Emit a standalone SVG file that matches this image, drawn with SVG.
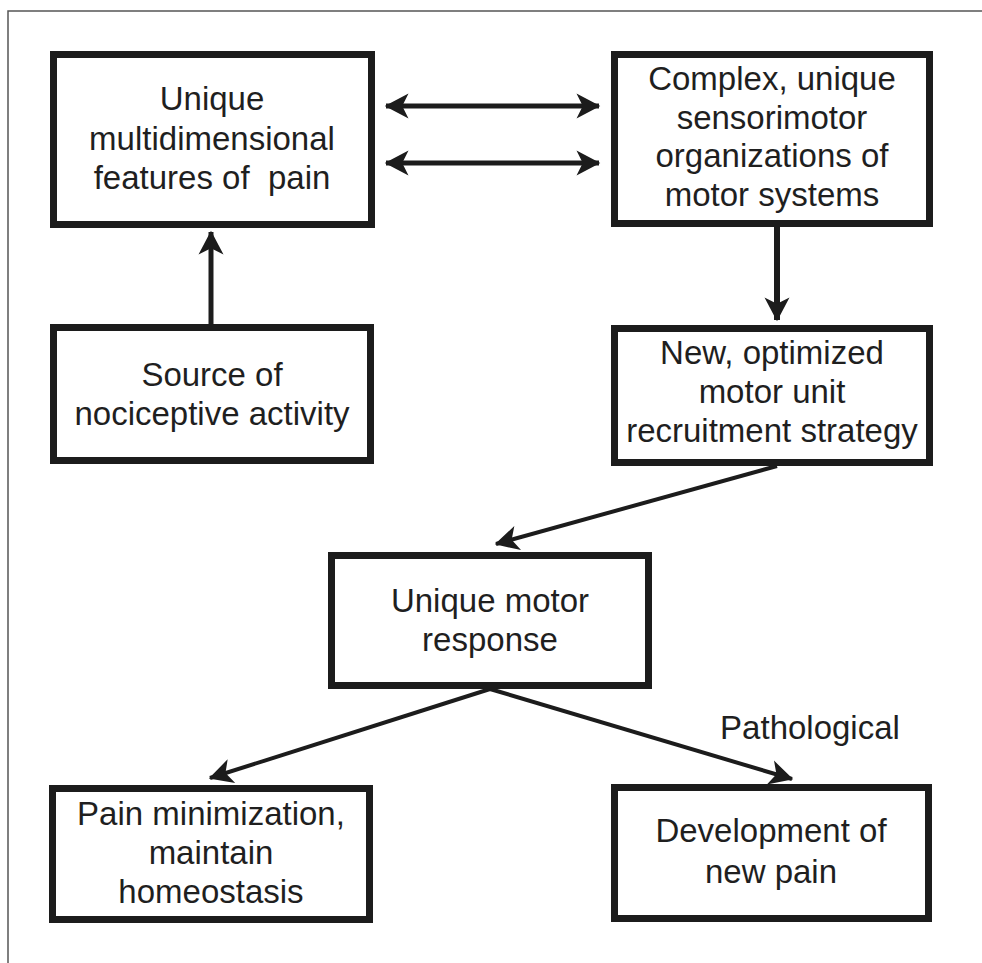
<svg xmlns="http://www.w3.org/2000/svg" width="982" height="963" viewBox="0 0 982 963">
<style>
.frame{fill:none;stroke:#555;stroke-width:1.5}
.box{fill:#fff;stroke:#1c1c1c;stroke-width:7}
.t{font-family:"Liberation Sans",Arial,sans-serif;font-size:33px;fill:#1f1f1f;text-anchor:middle}
.c{fill:none;stroke:#1c1c1c}
</style>
<defs>
<marker id="ah" markerUnits="userSpaceOnUse" markerWidth="30" markerHeight="30" viewBox="-22 -12 24 24" refX="0" refY="0" orient="auto-start-reverse">
<path d="M1,0 L-18,-10 L-13,0 L-18,10 Z" fill="#1c1c1c"/>
</marker>
</defs>
<rect width="982" height="963" fill="#fff"/>
<path class="frame" d="M8,963 L8,11 L982,11"/>
<g id="connectors">
<line class="c" stroke-width="5" x1="386" y1="106" x2="599" y2="106" marker-start="url(#ah)" marker-end="url(#ah)"/>
<line class="c" stroke-width="5" x1="386" y1="163" x2="599" y2="163" marker-start="url(#ah)" marker-end="url(#ah)"/>
<line class="c" stroke-width="5" x1="211" y1="324" x2="211" y2="232" marker-end="url(#ah)"/>
<line class="c" stroke-width="6" x1="777" y1="227" x2="777" y2="320" marker-end="url(#ah)"/>
<line class="c" stroke-width="4" x1="777" y1="466" x2="496" y2="544" marker-end="url(#ah)"/>
<line class="c" stroke-width="4" x1="490" y1="689" x2="210" y2="778" marker-end="url(#ah)"/>
<line class="c" stroke-width="4" x1="490" y1="689" x2="792" y2="779" marker-end="url(#ah)"/>
<text class="t" x="810" y="739">Pathological</text>
</g>
<g id="n1">
<rect class="box" x="53.5" y="54.5" width="318" height="170"/>
<text class="t" x="212" y="110">Unique</text>
<text class="t" x="212" y="150">multidimensional</text>
<text class="t" x="212" y="189" xml:space="preserve">features of  pain</text>
</g>
<g id="n2">
<rect class="box" x="614.5" y="54.5" width="315" height="169"/>
<text class="t" x="772" y="90">Complex, unique</text>
<text class="t" x="772" y="129">sensorimotor</text>
<text class="t" x="772" y="167">organizations of</text>
<text class="t" x="772" y="206">motor systems</text>
</g>
<g id="n3">
<rect class="box" x="53.5" y="327.5" width="317" height="133"/>
<text class="t" x="212" y="386">Source of</text>
<text class="t" x="212" y="425">nociceptive activity</text>
</g>
<g id="n4">
<rect class="box" x="614.5" y="328.5" width="315" height="134"/>
<text class="t" x="772" y="364">New, optimized</text>
<text class="t" x="772" y="403">motor unit</text>
<text class="t" x="772" y="442">recruitment strategy</text>
</g>
<g id="n5">
<rect class="box" x="331.5" y="555.5" width="317" height="130"/>
<text class="t" x="490" y="612">Unique motor</text>
<text class="t" x="490" y="651">response</text>
</g>
<g id="n6">
<rect class="box" x="52.5" y="788.5" width="317" height="131"/>
<text class="t" x="211" y="825">Pain minimization,</text>
<text class="t" x="211" y="864">maintain</text>
<text class="t" x="211" y="903">homeostasis</text>
</g>
<g id="n7">
<rect class="box" x="614.5" y="787.5" width="314" height="131"/>
<text class="t" x="771" y="842">Development of</text>
<text class="t" x="771" y="883">new pain</text>
</g>
</svg>
